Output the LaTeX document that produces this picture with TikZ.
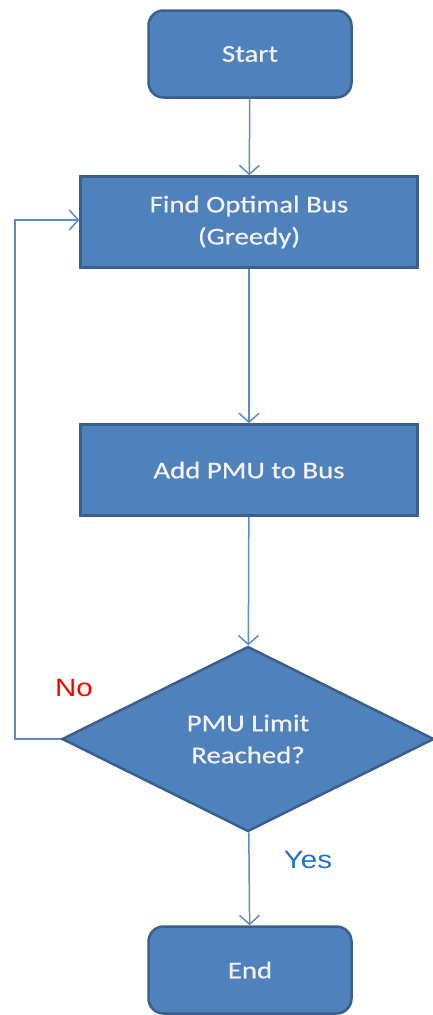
\documentclass[tikz,border=0pt]{standalone}
\usepackage{fontspec}
\setmainfont{Carlito}
\newfontfamily\boxfont[FakeStretch=1.2,FakeBold=0.6]{Carlito}
\newfontfamily\arialfont[FakeStretch=1.18]{Liberation Sans}
\usetikzlibrary{shapes.geometric,arrows.meta}
\definecolor{boxfill}{HTML}{4F81BD}
\definecolor{boxline}{HTML}{3A5F8C}
\definecolor{arrowcol}{HTML}{5B8CC6}
\definecolor{yescol}{HTML}{1F72C8}
\definecolor{txtcol}{HTML}{F2F2F2}
\begin{document}
\begin{tikzpicture}[x=1pt,y=-1pt,
  base/.style={fill=boxfill,draw=boxline,line width=2.5pt,text=txtcol,font=\boxfont\fontsize{24}{32}\selectfont,align=center,inner sep=0pt},
  term/.style={base,rounded corners=15pt,minimum width=203pt,minimum height=87pt},
  proc/.style={base,minimum width=337pt,minimum height=91pt},
  decis/.style={base,diamond,minimum width=372pt,minimum height=185pt},
  conn/.style={draw=arrowcol,line width=1.5pt,-{Straight Barb[length=9pt,width=20pt,line width=1.5pt]}},
  lbl/.style={font=\arialfont\fontsize{25}{30}\selectfont}]
\useasboundingbox (0,0) rectangle (433,1015);
\node[term] (start) at (250,54) {Start};
\node[proc] (find) at (249,222) {Find Optimal Bus\\(Greedy)};
\node[proc] (add) at (249,470) {Add PMU to Bus};
\node[decis] (dec) at (248,739) {PMU Limit\\Reached?};
\node[term] (end) at (250,970) {End};
\coordinate (lb) at (15,739);
\coordinate (lt) at (15,220);
\draw[conn] (start) -- (find);
\draw[conn] (find) -- (add);
\draw[conn] (add) -- (dec);
\draw[conn] (dec) -- (end);
\draw[conn] (dec.west) -- (lb) -- (lt) -- (find.west |- lt);
\node[lbl,text=red] (no) at (74,688) {No};
\node[lbl,text=yescol] (yes) at (308,860) {Yes};
\end{tikzpicture}
\end{document}
